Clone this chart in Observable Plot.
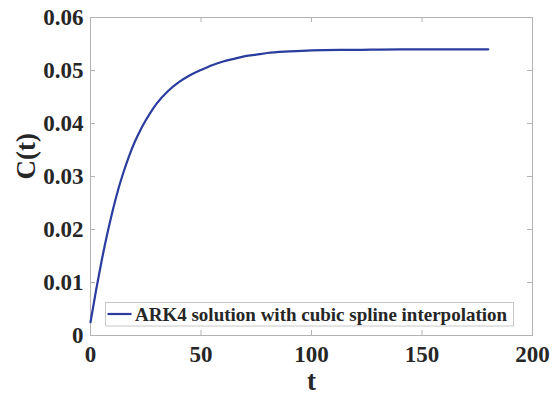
<!DOCTYPE html>
<html>
<head>
<meta charset="utf-8">
<script src="https://cdn.jsdelivr.net/npm/d3@7"></script>
<script src="https://cdn.jsdelivr.net/npm/@observablehq/plot@0.6"></script>
<style>
  html, body { margin: 0; padding: 0; background: #ffffff; }
  #chart svg { display: block; }
</style>
</head>
<body>
<div id="chart"></div>
<script>
// Concentration C(t) from the ARK4 solver, resampled with a cubic spline
const tValues = [0, 2.5, 5, 7.5, 10, 12.5, 15, 17.5, 20, 22.5, 25, 27.5, 30, 35, 40, 45, 50, 55, 60, 65, 70, 75, 80, 90, 100, 120, 140, 160, 180];
const cValues = [0.0025, 0.0085, 0.0140, 0.0190, 0.0235, 0.0275, 0.0309, 0.0339, 0.0365, 0.0387, 0.0406, 0.0423, 0.0438, 0.0461, 0.0478, 0.0491, 0.0501, 0.0510, 0.0517, 0.0522, 0.0527, 0.0530, 0.0533, 0.0536, 0.0538, 0.0539, 0.0540, 0.0540, 0.0540];

const xTicks = [0, 50, 100, 150, 200];
const yTicks = [0, 0.01, 0.02, 0.03, 0.04, 0.05, 0.06];
const yTickLabels = ["0", "0.01", "0.02", "0.03", "0.04", "0.05", "0.06"];
const xLabel = "t";
const yLabel = "C(t)";
const seriesName = "ARK4 solution with cubic spline interpolation";

const series = tValues.map((t, i) => ({t, c: cValues[i]}));

const W = 556, H = 395;
const mL = 90, mR = 24, mT = 17, mB = 60;
const innerW = W - mL - mR, innerH = H - mT - mB;
const tickLen = 5;
const ink = "#262626";
const boxGray = "#b3b3b3";
const lineBlue = "#2a3c9e";
const font = "'Liberation Serif', 'Times New Roman', serif";

const chart = Plot.plot({
  width: W,
  height: H,
  marginLeft: mL,
  marginRight: mR,
  marginTop: mT,
  marginBottom: mB,
  style: {fontFamily: font, fontWeight: "bold", color: ink, background: "#ffffff"},
  x: {domain: [0, 200]},
  y: {domain: [0, 0.06]},
  marks: [
    Plot.frame({stroke: boxGray, strokeWidth: 1}),
    // inward tick marks on all four sides
    Plot.tickX(xTicks, {x: d => d, stroke: boxGray, insetTop: innerH - tickLen}),
    Plot.tickX(xTicks, {x: d => d, stroke: boxGray, insetBottom: innerH - tickLen}),
    Plot.tickY(yTicks, {y: d => d, stroke: boxGray, insetRight: innerW - tickLen}),
    Plot.tickY(yTicks, {y: d => d, stroke: boxGray, insetLeft: innerW - tickLen}),
    Plot.axisX({ticks: xTicks, tickSize: 0, tickPadding: 10, label: null, fontSize: 23, fontWeight: "bold", fill: ink, tickFormat: d => String(d)}),
    Plot.axisY({ticks: yTicks, tickSize: 0, tickPadding: 7, label: null, fontSize: 23, fontWeight: "bold", fill: ink, tickFormat: d => yTickLabels[yTicks.indexOf(d)]}),
    Plot.line(series, {x: "t", y: "c", curve: "monotone-x", stroke: lineBlue, strokeWidth: 2.2}),
    Plot.text([xLabel], {frameAnchor: "bottom", lineAnchor: "bottom", dy: 54, fontSize: 27, fontWeight: "bold", fill: ink}),
    Plot.text([yLabel], {frameAnchor: "left", rotate: -90, dx: -64, dy: 3, fontSize: 27, fontWeight: "bold", fill: ink})
  ]
});

// Legend box in the lower part of the axes
const svg = d3.select(chart);
const lg = svg.append("g").attr("font-family", font).attr("font-weight", "bold").attr("text-anchor", "start");
lg.append("rect")
  .attr("x", 105.5).attr("y", 302.5).attr("width", 408).attr("height", 23.5)
  .attr("fill", "#ffffff").attr("stroke", "#c8c8c8").attr("stroke-width", 1);
lg.append("line")
  .attr("x1", 107.5).attr("x2", 131.5).attr("y1", 314).attr("y2", 314)
  .attr("stroke", lineBlue).attr("stroke-width", 2.2);
lg.append("text")
  .attr("x", 135).attr("y", 320.5)
  .attr("font-size", 19).attr("fill", ink)
  .attr("text-anchor", "start")
  .text(seriesName);

document.getElementById("chart").appendChild(chart);
</script>
</body>
</html>
